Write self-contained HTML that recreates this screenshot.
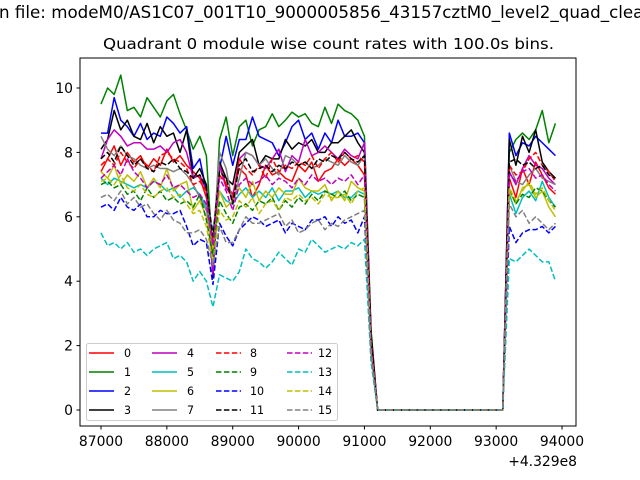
<!DOCTYPE html>
<html><head><meta charset="utf-8"><style>
body{margin:0;background:#fff;}
svg{display:block;font-family:"DejaVu Sans","Liberation Sans",sans-serif;}
</style></head><body>
<svg id="chart" width="640" height="480" viewBox="0 0 640 480" xmlns="http://www.w3.org/2000/svg">
<rect width="640" height="480" fill="#fff"/>
<text x="-1" y="18" font-size="16.7" fill="#000">n file: modeM0/AS1C07_001T10_9000005856_43157cztM0_level2_quad_clean.evt</text>
<text x="103" y="49" font-size="15.5" textLength="451" lengthAdjust="spacingAndGlyphs" fill="#000">Quadrant 0 module wise count rates with 100.0s bins.</text>
<g id="plot"></g>
<rect x="80" y="58" width="496" height="368" fill="none" stroke="#000" stroke-width="1"/>
<g id="axes"></g>
<text x="577" y="466" font-size="13.9" text-anchor="end">+4.329e8</text>
<g id="legend"></g>
</svg>
<script>
const xTicks=[87000,88000,89000,90000,91000,92000,93000,94000];
const yTicks=[0,2,4,6,8,10];
const times=[];for(let i=0;i<70;i++)times.push(87000+i*100);
const Z=[0,0,0,0,0,0,0,0,0,0,0,0,0,0,0,0,0,0,0,0];
const s0=[7.4,7.8,8.2,7.6,8.0,7.7,7.9,7.5,7.8,7.6, 8.1,7.7,7.9,7.6,7.4,7.2,6.6,5.2,7.6,7.0, 6.7,7.5,7.3,6.6,7.0,7.6,7.3,7.4,7.2,7.1, 7.6,7.4,7.7,7.1,7.4,7.5,7.8,7.6,7.8,7.6, 7.3,2.2];
const p0=[7.2,6.6,7.5,7.0,7.7,7.3,6.9,6.7];
const s1=[9.5,10.0,9.8,10.4,9.3,9.4,9.1,9.7,9.4,9.1, 9.6,9.8,9.2,8.7,8.1,8.5,7.9,4.6,8.4,9.1, 7.9,8.8,9.0,8.2,8.7,8.8,9.2,8.8,9.0,9.25, 9.1,9.2,8.9,8.8,9.4,8.9,9.5,9.3,9.2,9.0, 8.5,2.5];
const p1=[8.0,8.4,8.6,8.4,8.7,9.3,8.3,8.9];
const s2=[8.6,8.6,9.7,9.0,8.8,8.5,8.9,8.4,8.6,8.5, 9.1,8.9,8.6,8.8,7.5,7.8,6.8,5.0,7.5,8.5, 7.6,8.4,8.4,9.1,8.5,8.4,8.3,7.9,8.3,8.8, 9.0,8.4,8.6,8.1,8.6,8.3,9.0,8.5,8.5,8.6, 8.3,2.3];
const p2=[8.6,7.9,8.3,8.2,8.5,8.3,8.1,7.9];
const s3=[8.1,8.4,9.3,8.7,9.0,8.5,8.4,8.9,8.3,8.8, 8.5,8.6,8.0,8.7,7.2,7.5,7.0,4.1,7.7,7.2, 7.0,8.0,8.2,8.4,7.6,7.9,7.8,7.8,8.4,8.1, 8.3,8.2,8.4,8.0,8.0,8.3,8.3,8.5,8.7,8.3, 8.0,2.4];
const p3=[8.4,7.6,8.5,8.0,8.7,7.7,7.4,7.2];
const s4=[7.8,8.4,8.7,8.5,8.2,8.3,8.3,8.1,8.1,8.2, 8.0,8.3,8.4,8.0,7.2,7.3,6.8,4.2,7.6,6.9, 6.6,7.8,8.0,7.9,7.6,7.5,7.8,8.1,7.4,7.9, 7.7,8.4,7.9,8.0,8.2,8.0,7.8,8.1,7.9,7.8, 8.3,2.1];
const p4=[7.4,7.0,7.5,7.9,7.6,7.5,7.2,7.0];
const s5=[7.2,7.0,7.2,7.1,7.0,6.9,7.0,6.9,7.1,7.0, 6.8,6.9,6.6,6.8,6.9,6.7,6.3,5.6,6.8,6.5, 6.4,6.7,6.9,6.6,6.8,6.6,6.9,6.5,6.8,6.8, 6.9,6.6,6.8,6.7,6.8,6.7,6.8,6.6,6.6,6.8, 6.7,1.9];
const p5=[6.7,6.1,6.6,6.8,6.5,7.1,6.6,6.3];
const s6=[7.4,7.2,7.6,7.0,7.3,7.1,7.4,6.9,7.2,6.9, 7.5,6.8,7.0,7.1,6.2,6.5,6.0,5.0,6.8,6.3, 6.5,6.9,6.6,7.1,6.5,6.8,6.6,6.9,6.7,6.7, 7.2,6.9,6.8,6.8,7.0,6.5,6.8,6.5,7.1,6.9, 6.8,2.0];
const p6=[6.8,6.4,6.9,7.0,6.6,6.8,6.3,6.0];
const s7=[8.5,8.1,7.9,8.2,7.9,7.8,7.6,7.5,7.6,7.5, 7.5,7.4,7.5,7.3,7.0,6.6,6.2,5.2,8.0,7.5, 6.4,7.2,8.0,7.9,7.6,7.8,7.5,7.3,7.9,7.8, 7.6,7.7,7.5,7.6,7.8,7.7,7.6,7.9,7.7,7.6, 7.9,2.0];
const p7=[7.6,7.1,7.0,7.3,7.5,7.2,7.1,7.0];
const s8=[7.6,7.8,7.6,8.0,7.7,7.5,7.8,7.6,7.4,7.9, 8.0,7.8,7.7,7.5,7.0,7.1,6.8,5.3,7.3,7.0, 6.5,7.8,7.5,7.3,7.6,7.2,7.8,7.4,7.6,7.5, 7.7,7.6,7.9,7.5,7.8,8.0,7.7,8.0,7.8,7.9, 7.7,2.2];
const p8=[7.6,7.3,7.4,7.8,8.0,7.6,7.4,7.1];
const s9=[7.0,7.1,6.9,7.0,6.7,6.8,6.5,6.9,6.6,6.8, 6.5,6.6,6.4,6.5,6.3,6.7,5.9,4.8,6.5,6.1, 5.8,6.3,6.4,6.2,6.5,6.4,6.6,6.2,6.5,6.3, 6.6,6.4,6.7,6.5,6.8,6.7,6.6,6.8,6.5,6.7, 6.6,1.9];
const p9=[6.9,6.4,6.7,6.6,6.9,6.8,6.5,6.3];
const s10=[6.3,6.4,6.2,6.6,6.3,6.2,6.4,6.0,6.0,6.2, 6.1,6.1,6.2,5.7,5.1,5.3,5.2,3.9,5.8,5.4, 5.1,5.6,5.8,6.0,5.9,5.7,5.8,5.9,5.5,5.8, 5.7,5.6,5.9,5.9,6.0,5.7,6.0,5.8,5.9,5.5, 6.0,1.6];
const p10=[5.7,5.2,5.5,5.6,5.6,5.7,5.5,5.7];
const s11=[7.8,8.0,7.7,8.2,7.9,7.6,7.8,7.5,7.4,7.7, 7.6,7.8,7.5,7.4,7.2,7.3,6.9,5.4,7.4,7.2, 6.4,7.6,7.8,7.4,7.5,7.6,7.4,7.6,7.5,7.7, 7.6,7.7,7.5,7.8,7.7,7.9,7.8,8.0,7.8,7.7, 7.9,2.2];
const p11=[7.7,7.8,7.6,7.7,7.5,7.6,7.3,7.2];
const s12=[7.2,7.4,7.6,7.3,7.8,7.4,7.2,6.9,7.1,7.0, 7.3,6.9,7.0,6.8,6.6,6.7,6.4,5.1,7.2,6.8, 6.2,7.0,7.2,7.0,7.1,7.3,7.0,7.2,7.1,6.9, 7.2,7.0,7.3,7.1,7.2,7.0,7.2,7.1,7.3,7.0, 7.3,2.0];
const p12=[7.3,7.1,7.4,7.5,7.2,7.3,7.0,6.8];
const s13=[5.5,5.1,5.2,5.0,5.2,4.9,5.0,4.8,5.0,5.1, 5.2,4.7,4.8,4.6,4.0,4.3,4.0,3.2,4.2,4.1, 4.0,4.3,5.0,4.7,4.6,4.4,4.6,4.9,4.7,4.5, 5.0,4.9,5.3,5.1,4.9,5.0,5.1,5.0,5.2,5.1, 5.3,1.5];
const p13=[4.7,4.6,4.8,5.0,4.8,4.6,4.6,4.0];
const s14=[7.1,7.2,7.0,7.3,6.9,6.8,7.0,6.7,6.6,6.8, 6.9,6.6,6.7,6.4,6.1,6.2,5.7,4.6,6.2,5.9, 6.0,6.5,6.3,6.6,6.1,6.4,6.5,6.2,6.6,6.5, 6.7,6.5,6.6,6.4,6.7,6.6,6.6,6.7,6.4,6.8, 6.9,1.8];
const p14=[6.9,6.5,6.8,7.1,6.7,6.9,6.5,6.2];
const s15=[6.6,6.7,6.5,6.8,6.4,6.6,6.3,6.4,6.1,5.9, 6.2,5.9,5.8,5.5,5.5,5.6,5.3,4.5,5.7,5.2, 5.2,5.6,6.0,5.8,5.8,5.9,6.0,6.1,5.7,5.9, 5.5,5.6,5.8,5.9,5.6,5.8,5.7,5.9,6.0,6.1, 6.2,1.7];
const p15=[6.4,6.0,6.2,5.8,6.0,5.8,5.6,5.8];
const pre=[s0,s1,s2,s3,s4,s5,s6,s7,s8,s9,s10,s11,s12,s13,s14,s15];
const post=[p0,p1,p2,p3,p4,p5,p6,p7,p8,p9,p10,p11,p12,p13,p14,p15];
const labels=["0","1","2","3","4","5","6","7","8","9","10","11","12","13","14","15"];
const colors=["#ff0000","#008000","#0000ff","#000000","#bf00bf","#00bfbf","#bfbf00","#808080"];

const NS="http://www.w3.org/2000/svg";
function X(t){return 101+(t-87000)*0.06586;}
function Y(v){return 410-v*32.2;}
function el(tag,attrs,parent){const e=document.createElementNS(NS,tag);for(const k in attrs)e.setAttribute(k,attrs[k]);parent.appendChild(e);return e;}
const plot=document.getElementById('plot'),axes=document.getElementById('axes'),leg=document.getElementById('legend');

for(let s=0;s<16;s++){
  const vals=pre[s].concat(Z,post[s]);
  const pts=vals.map((v,i)=>X(times[i]).toFixed(2)+","+Y(v).toFixed(2)).join(" ");
  const pl=el('polyline',{points:pts,fill:"none",stroke:colors[s%8],"stroke-width":1.5,"stroke-linejoin":"round"},plot);
  if(s>=8)pl.setAttribute('stroke-dasharray','5.5,2.4');
  
  
}
xTicks.forEach(t=>{
  const x=X(t);
  const tk=el('line',{x1:x,x2:x,y1:426,y2:429.5,stroke:"#000"},axes);
  
  
  const tx=el('text',{x:x,y:446,"font-size":13.9,"text-anchor":"middle"},axes);tx.textContent=t;
  
  
});
yTicks.forEach(v=>{
  const y=Y(v);
  const tk=el('line',{x1:76.5,x2:80,y1:y,y2:y,stroke:"#000"},axes);
  
  
  const tx=el('text',{x:73,y:y+5,"font-size":13.9,"text-anchor":"end"},axes);tx.textContent=v;
  
  
});
const box=el('rect',{x:86.5,y:343.5,width:251,height:77,rx:2,fill:"#fff","fill-opacity":0.8,stroke:"#ccc"},leg);


const colX=[89,152,216,287],labX=[124,187,250,318],rowY=[353,372,391,410];
for(let s=0;s<16;s++){
  const c=Math.floor(s/4),r=s%4;
  const ln=el('line',{x1:colX[c],x2:colX[c]+25,y1:rowY[r],y2:rowY[r],stroke:colors[s%8],"stroke-width":1.5},leg);
  if(s>=8)ln.setAttribute('stroke-dasharray','5.5,2.4');
  
  
  const tx=el('text',{x:labX[c],y:rowY[r]+4,"font-size":11.1},leg);tx.textContent=labels[s];
  
  
}
</script>
</body></html>
